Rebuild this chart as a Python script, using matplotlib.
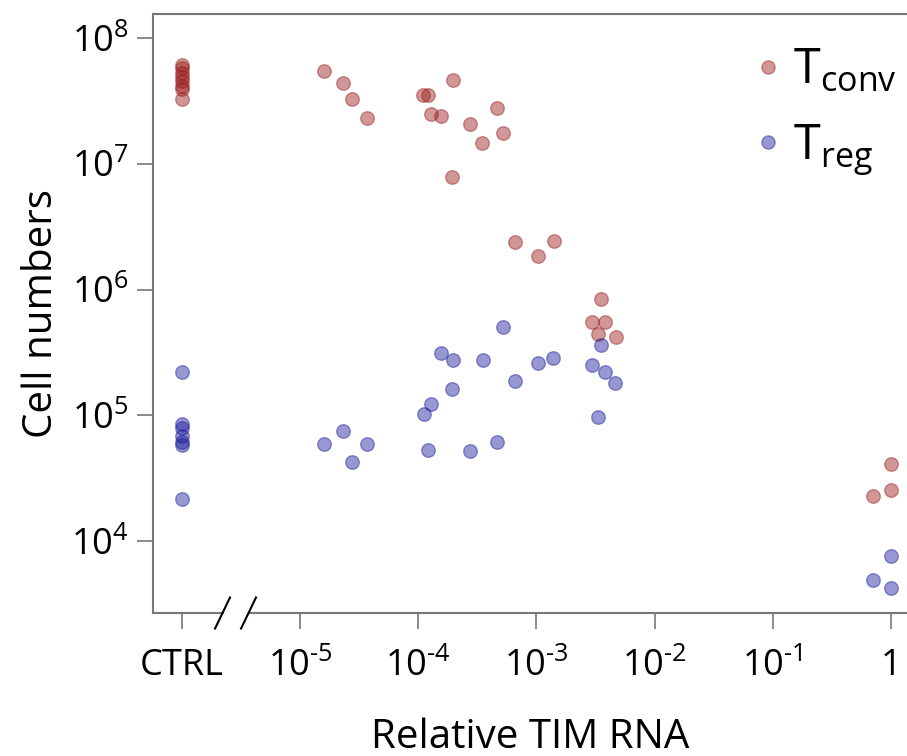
import numpy as np
import matplotlib
matplotlib.use("Agg")
import matplotlib.pyplot as plt
from matplotlib.lines import Line2D

plt.rcParams['font.family'] = ['Open Sans', 'DejaVu Sans']
plt.rcParams['mathtext.fontset'] = 'custom'
plt.rcParams['mathtext.rm'] = 'Open Sans'
plt.rcParams['mathtext.it'] = 'Open Sans:italic'
plt.rcParams['mathtext.bf'] = 'Open Sans:bold'

# control samples (drawn in the CTRL column)
ctrl_tconv = [6.10e7, 5.77e7, 5.27e7, 4.90e7, 4.55e7, 4.15e7, 3.93e7, 3.27e7]
ctrl_treg = [2.20e5, 8.49e4, 7.89e4, 6.82e4, 6.11e4, 5.78e4, 2.15e4]

# knockdown samples: relative TIM RNA vs cell numbers
tim_tconv = [1.58e-5, 2.31e-5, 2.74e-5, 3.69e-5, 1.09e-4, 1.22e-4, 1.96e-4, 1.28e-4,
             1.56e-4, 2.74e-4, 4.64e-4, 5.25e-4, 3.48e-4, 1.92e-4, 6.62e-4, 1.04e-3,
             1.40e-3, 3.52e-3, 2.95e-3, 3.83e-3, 3.34e-3, 4.69e-3, 1.0, 1.0, 0.71]
cells_tconv = [5.46e7, 4.38e7, 3.25e7, 2.31e7, 3.50e7, 3.50e7, 4.60e7, 2.48e7,
               2.38e7, 2.07e7, 2.79e7, 1.75e7, 1.46e7, 7.83e6, 2.38e6, 1.85e6,
               2.44e6, 8.44e5, 5.51e5, 5.47e5, 4.42e5, 4.16e5, 4.07e4, 2.54e4, 2.27e4]

tim_treg = [1.60e-5, 2.31e-5, 2.74e-5, 3.69e-5, 1.56e-4, 1.96e-4, 3.51e-4, 1.04e-3,
            1.39e-3, 5.25e-4, 6.62e-4, 1.92e-4, 1.28e-4, 1.11e-4, 1.21e-4, 2.74e-4,
            4.64e-4, 3.52e-3, 2.94e-3, 3.83e-3, 4.66e-3, 3.32e-3, 1.0, 0.71, 1.0]
cells_treg = [5.86e4, 7.57e4, 4.26e4, 5.89e4, 3.13e5, 2.74e5, 2.76e5, 2.61e5,
              2.83e5, 5.03e5, 1.88e5, 1.63e5, 1.24e5, 1.03e5, 5.31e4, 5.17e4,
              6.08e4, 3.59e5, 2.49e5, 2.21e5, 1.80e5, 9.71e4, 7.67e3, 4.87e3, 4.24e3]

CTRL_POS = 1e-6
xtick_vals = [CTRL_POS, 1e-5, 1e-4, 1e-3, 1e-2, 1e-1, 1]
xtick_labels = ['CTRL', r'10$^{\text{-}5}$', r'10$^{\text{-}4}$', r'10$^{\text{-}3}$',
                r'10$^{\text{-}2}$', r'10$^{\text{-}1}$', '1']
ytick_vals = [1e4, 1e5, 1e6, 1e7, 1e8]
ytick_labels = [r'10$^{4}$', r'10$^{5}$', r'10$^{6}$', r'10$^{7}$', r'10$^{8}$']

red = '#991a1a'
blue = '#1a1a99'
spine_col = '#777777'

fig = plt.figure(figsize=(9.07, 7.56), dpi=100)
ax = fig.add_axes([153 / 907, 143 / 756, 754 / 907, 599 / 756])

ax.scatter([CTRL_POS] * len(ctrl_tconv), ctrl_tconv, s=95, color=red, alpha=0.45, linewidths=1)
ax.scatter(tim_tconv, cells_tconv, s=95, color=red, alpha=0.45, linewidths=1)
ax.scatter([CTRL_POS] * len(ctrl_treg), ctrl_treg, s=95, color=blue, alpha=0.45, linewidths=1)
ax.scatter(tim_treg, cells_treg, s=95, color=blue, alpha=0.45, linewidths=1)

ax.set_xscale('log')
ax.set_yscale('log')
ax.set_xlim(10 ** -6.244, 10 ** 0.1354)
ax.set_ylim(10 ** 3.428, 10 ** 8.191)

ax.set_xticks(xtick_vals)
ax.set_xticklabels(xtick_labels)
ax.set_yticks(ytick_vals)
ax.set_yticklabels(ytick_labels)
ax.minorticks_off()
ax.tick_params(axis='both', which='major', length=11.5, width=1.2, color=spine_col,
               labelsize=26, direction='out')
ax.tick_params(axis='x', pad=14)
ax.tick_params(axis='y', pad=6)

for s in ['left', 'top']:
    ax.spines[s].set_color(spine_col)
    ax.spines[s].set_linewidth(1.5)
ax.spines['right'].set_visible(False)
ax.spines['bottom'].set_visible(False)

# bottom axis line with a break between CTRL and the log scale
b1, b2 = 0.0922, 0.1267
ax.plot([0, b1], [0, 0], transform=ax.transAxes, color=spine_col, lw=1.5, clip_on=False)
ax.plot([b2, 1], [0, 0], transform=ax.transAxes, color=spine_col, lw=1.5, clip_on=False)
dx, dy = 0.0099, 0.0259
for b in (b1, b2):
    ax.plot([b - dx, b + dx], [-dy, dy], transform=ax.transAxes, color='black', lw=1.5,
            clip_on=False)

ax.set_xlabel('Relative TIM RNA', fontsize=29)
ax.xaxis.label.set_va('baseline')
ax.xaxis.set_label_coords(0.5, -0.226)
ax.set_ylabel('Cell numbers', fontsize=29)
ax.yaxis.label.set_rotation_mode('anchor')
ax.yaxis.label.set_va('baseline')
ax.yaxis.set_label_coords(-0.134, 0.5)

handles = [Line2D([], [], ls='none', marker='o', markersize=9.5, color=red, alpha=0.45),
           Line2D([], [], ls='none', marker='o', markersize=9.5, color=blue, alpha=0.45)]
ax.legend(handles, [r'T$_{\mathrm{conv}}$', r'T$_{\mathrm{reg}}$'], loc='upper left',
          bbox_to_anchor=(0.758, 0.995), frameon=False, fontsize=35, handlelength=0.6,
          handletextpad=0.2, labelspacing=0.53, borderaxespad=0.2)

fig.savefig('out.png', dpi=100)
